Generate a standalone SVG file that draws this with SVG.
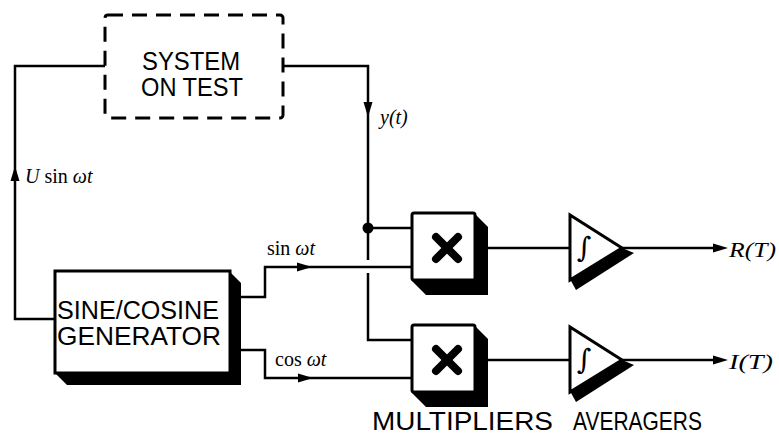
<svg xmlns="http://www.w3.org/2000/svg" xmlns:xlink="http://www.w3.org/1999/xlink" width="779" height="435" viewBox="0 0 779 435">
<style>
.w{fill:none;stroke:#000;stroke-width:2.5;stroke-linejoin:miter}
.box{fill:#fff;stroke:#000;stroke-width:3}
.sh{fill:#000}
.big{font-family:"Liberation Sans",Arial,sans-serif;font-size:25px;fill:#000}
.lab{font-family:"Liberation Serif","Times New Roman",serif;font-size:20px;fill:#000}
.it{font-style:italic}
.int{font-family:"DejaVu Serif",serif;font-size:28px;fill:#000}
.x{stroke:#000;stroke-width:8;stroke-linecap:round}
</style>
<defs>
<path id="ar" d="M0,0 L-15,-4.5 L-15,4.5 Z" fill="#000"/>
</defs>
<rect width="779" height="435" fill="#fff"/>

<g id="connectors">
<polyline class="w" points="105,66 15,66 15,319 55,319"/>
<polyline class="w" points="283,66 368,66 368,260"/>
<polyline class="w" points="368,273 368,340 412,340"/>
<line class="w" x1="368" y1="228" x2="412" y2="228"/>
<polyline class="w" points="240,297 265,297 265,267 412,267"/>
<polyline class="w" points="240,350 265,350 265,378 412,378"/>
<line class="w" x1="488" y1="248" x2="570" y2="248"/>
<line class="w" x1="488" y1="360" x2="570" y2="360"/>
<line class="w" x1="622" y1="248" x2="720" y2="248"/>
<line class="w" x1="622" y1="360" x2="720" y2="360"/>
<circle cx="368" cy="228" r="5.5" fill="#000"/>
<use xlink:href="#ar" transform="translate(368,117) rotate(90)"/>
<use xlink:href="#ar" transform="translate(15,166) rotate(-90)"/>
<use xlink:href="#ar" transform="translate(312,267)"/>
<use xlink:href="#ar" transform="translate(313,378)"/>
<use xlink:href="#ar" transform="translate(728,248)"/>
<use xlink:href="#ar" transform="translate(728,360)"/>
</g>

<g id="system">
<rect x="105" y="15" width="178" height="103" rx="3" fill="none" stroke="#000" stroke-width="3" stroke-dasharray="15 9"/>
<text class="big" x="191" y="70" font-size="21" text-anchor="middle" textLength="98" lengthAdjust="spacingAndGlyphs">SYSTEM</text>
<text class="big" x="192" y="96" font-size="21" text-anchor="middle" textLength="102" lengthAdjust="spacingAndGlyphs">ON TEST</text>
</g>

<g id="generator">
<polygon class="sh" points="229,271 241,283 241,385 67,385 55,373"/>
<rect class="box" x="55" y="271" width="175" height="102"/>
<text class="big" x="57" y="319" textLength="162" lengthAdjust="spacingAndGlyphs">SINE/COSINE</text>
<text class="big" x="57" y="345" textLength="164" lengthAdjust="spacingAndGlyphs">GENERATOR</text>
</g>

<g id="mult1">
<polygon class="sh" points="474,213 488,227 488,295 426,295 412,281"/>
<rect class="box" x="412" y="213" width="63" height="67" rx="2"/>
<line class="x" x1="436" y1="237" x2="458" y2="259"/>
<line class="x" x1="458" y1="237" x2="436" y2="259"/>
</g>

<g id="mult2">
<polygon class="sh" points="474,325 488,339 488,407 426,407 412,393"/>
<rect class="box" x="412" y="325" width="63" height="67" rx="2"/>
<line class="x" x1="436" y1="349" x2="458" y2="371"/>
<line class="x" x1="458" y1="349" x2="436" y2="371"/>
</g>

<g id="avg1">
<polygon class="sh" points="570,279 622,248 634,253 576,290"/>
<polygon class="box" points="570,215 570,280 622,248"/>
<text class="int" x="584" y="257" text-anchor="middle">∫</text>
</g>

<g id="avg2">
<polygon class="sh" points="570,391 622,360 634,365 576,402"/>
<polygon class="box" points="570,327 570,392 622,360"/>
<text class="int" x="584" y="369" text-anchor="middle">∫</text>
</g>

<g id="labels">
<text class="lab it" x="380" y="124">y(t)</text>
<text class="lab" x="25" y="183"><tspan class="it">U</tspan> sin <tspan class="it">ωt</tspan></text>
<text class="lab" x="267" y="255">sin <tspan class="it">ωt</tspan></text>
<text class="lab" x="275" y="366">cos <tspan class="it">ωt</tspan></text>
<text class="lab it" x="729" y="257" textLength="47" lengthAdjust="spacingAndGlyphs">R(T)</text>
<text class="lab it" x="729" y="369" textLength="44" lengthAdjust="spacingAndGlyphs">I(T)</text>
<text class="big" x="372" y="430" font-size="24" textLength="181" lengthAdjust="spacingAndGlyphs">MULTIPLIERS</text>
<text class="big" x="573" y="430" font-size="24" textLength="129" lengthAdjust="spacingAndGlyphs">AVERAGERS</text>
</g>
</svg>
